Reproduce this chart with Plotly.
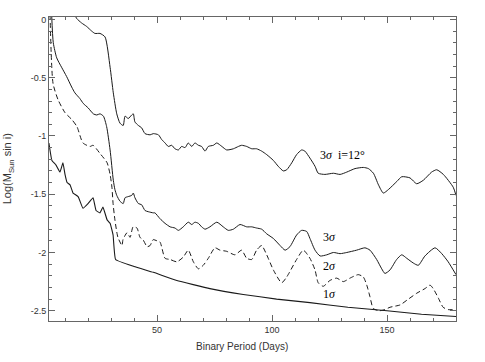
import plotly.graph_objects as go

# lower envelope (1 sigma)
x_1sig = [3.0, 4.3, 6.1, 7.8, 9.1, 10.0, 10.9, 12.2, 13.5, 15.7, 17.8, 20.0, 22.2, 23.5, 25.2,
          26.5, 28.3, 29.6, 30.9, 32.0, 40.0, 48.4, 58.6, 73.0, 87.5, 102.0, 116.5, 133.0, 150.0,
          165.0, 180.0]
y_1sig = [-1.06, -1.21, -1.25, -1.31, -1.23, -1.33, -1.40, -1.42, -1.49, -1.52, -1.62, -1.58,
          -1.53, -1.64, -1.66, -1.61, -1.72, -1.75, -1.85, -2.06, -2.12, -2.17, -2.24, -2.31,
          -2.36, -2.40, -2.43, -2.47, -2.50, -2.53, -2.55]

# 2 sigma (dashed)
x_2sig = [3.5, 4.8, 7.0, 10.0, 13.0, 15.2, 17.8, 20.9, 22.2, 25.2, 28.3, 29.6, 30.4, 30.9, 31.7,
          33.0, 34.8, 35.2, 37.0, 38.3, 39.6, 41.3, 42.6, 43.9, 45.7, 47.0, 48.3, 50.0, 51.3,
          53.5, 55.7, 58.6, 61.4, 63.6, 65.8, 68.0, 70.1, 72.3, 75.2, 77.4, 80.3, 83.9, 86.8,
          89.0, 91.2, 93.3, 95.5, 97.7, 100.6, 104.2, 106.4, 110.7, 113.6, 116.5, 118.7, 120.1,
          122.3, 125.2, 128.1, 131.0, 133.9, 137.5, 139.7, 141.2, 142.6, 144.0, 146.5, 149.1,
          151.3, 155.7, 158.6, 162.9, 166.5, 168.7, 170.1, 172.3, 174.4, 176.6, 179.6]
y_2sig = [0.04, -0.55, -0.69, -0.80, -0.86, -0.92, -1.06, -1.09, -1.08, -1.15, -1.23, -1.33,
          -1.44, -1.58, -1.72, -1.87, -1.94, -1.89, -1.83, -1.87, -1.78, -1.79, -1.87, -1.89,
          -1.95, -1.94, -1.89, -1.90, -1.91, -2.05, -2.06, -2.08, -2.04, -1.98, -2.08, -2.14,
          -2.11, -2.05, -1.96, -1.98, -1.99, -2.02, -1.98, -2.05, -2.06, -1.98, -1.94, -2.02,
          -2.15, -2.26, -2.21, -2.06, -1.98, -2.05, -2.15, -2.26, -2.29, -2.24, -2.22, -2.25,
          -2.22, -2.19, -2.21, -2.28, -2.38, -2.48, -2.50, -2.49, -2.47, -2.45, -2.41, -2.35,
          -2.31, -2.28, -2.31, -2.39, -2.47, -2.49, -2.49]

# 3 sigma
x_3sig = [4.2, 4.9, 6.4, 8.5, 10.7, 12.9, 14.3, 16.5, 17.9, 20.1, 22.3, 23.8, 25.2, 26.7, 28.1,
          29.6, 31.0, 31.7, 32.5, 33.9, 35.3, 36.1, 37.5, 39.0, 39.7, 40.4, 41.9, 43.3, 44.8,
          46.2, 48.4, 49.1, 51.3, 53.5, 55.7, 57.8, 59.3, 61.4, 63.6, 65.1, 66.5, 68.0, 69.4,
          70.9, 73.0, 76.0, 78.8, 81.0, 83.2, 86.1, 89.0, 91.2, 93.3, 95.5, 97.7, 100.6, 103.5,
          105.7, 107.8, 110.7, 112.9, 115.1, 116.5, 118.7, 120.9, 123.8, 126.7, 129.6, 132.5,
          136.8, 140.4, 142.6, 145.5, 147.7, 149.1, 151.3, 154.2, 156.4, 158.6, 161.4, 163.6,
          166.5, 170.9, 173.8, 176.6, 180.0]
y_3sig = [0.04, -0.20, -0.33, -0.41, -0.49, -0.58, -0.63, -0.68, -0.72, -0.76, -0.81, -0.82,
          -0.81, -0.83, -0.92, -1.12, -1.38, -1.46, -1.51, -1.56, -1.58, -1.53, -1.52, -1.51,
          -1.49, -1.53, -1.58, -1.59, -1.64, -1.65, -1.66, -1.66, -1.71, -1.75, -1.78, -1.79,
          -1.81, -1.78, -1.74, -1.76, -1.74, -1.75, -1.78, -1.80, -1.78, -1.74, -1.78, -1.81,
          -1.80, -1.76, -1.78, -1.78, -1.79, -1.80, -1.84, -1.88, -1.94, -1.98, -1.95, -1.85,
          -1.81, -1.82, -1.88, -1.98, -2.03, -2.02, -2.00, -2.01, -2.00, -1.98, -1.96, -1.98,
          -2.06, -2.14, -2.18, -2.15, -2.06, -2.02, -2.05, -2.09, -2.11, -2.03, -1.96, -2.01,
          -2.08, -2.19]

# 3 sigma, i = 12 deg
x_3sig12 = [13.9, 15.0, 17.2, 19.4, 21.6, 23.0, 25.2, 27.4, 29.6, 31.0, 32.5, 33.9, 35.3, 36.1,
            37.5, 39.0, 39.7, 40.4, 41.9, 43.3, 44.8, 47.0, 48.4, 50.6, 52.0, 53.5, 54.9, 56.4,
            57.8, 59.3, 60.7, 62.2, 63.6, 65.1, 66.5, 68.0, 69.4, 70.9, 72.3, 74.5, 76.0, 78.2,
            80.3, 83.2, 85.4, 86.8, 89.0, 91.2, 93.3, 95.5, 97.7, 100.6, 102.7, 104.9, 106.4,
            108.6, 110.7, 112.9, 114.3, 116.5, 118.7, 120.1, 123.0, 126.7, 129.6, 132.5, 136.1,
            139.7, 141.9, 144.1, 146.3, 148.4, 150.6, 154.3, 156.4, 160.0, 162.9, 165.8, 169.4,
            171.6, 174.5, 178.8, 180.0]
y_3sig12 = [0.06, 0.01, -0.03, -0.06, -0.10, -0.12, -0.12, -0.15, -0.41, -0.63, -0.81, -0.89,
            -0.91, -0.83, -0.85, -0.82, -0.81, -0.88, -0.91, -0.93, -0.98, -0.99, -0.98, -0.99,
            -1.03, -1.06, -1.09, -1.08, -1.11, -1.12, -1.09, -1.10, -1.06, -1.09, -1.06, -1.08,
            -1.09, -1.13, -1.09, -1.08, -1.06, -1.09, -1.12, -1.11, -1.09, -1.08, -1.09, -1.11,
            -1.11, -1.13, -1.16, -1.21, -1.26, -1.30, -1.29, -1.23, -1.16, -1.12, -1.13, -1.19,
            -1.26, -1.32, -1.33, -1.32, -1.33, -1.31, -1.28, -1.27, -1.28, -1.32, -1.42, -1.49,
            -1.46, -1.39, -1.35, -1.36, -1.41, -1.38, -1.31, -1.29, -1.33, -1.44, -1.51]

y_tickvals = [0, -0.5, -1, -1.5, -2, -2.5]
y_ticktext = ["0", "-0.5", "-1", "-1.5", "-2", "-2.5"]
x_tickvals = [50, 100, 150]

labels = ["3<i>σ</i>  i=12°", "3<i>σ</i>", "2<i>σ</i>", "1<i>σ</i>"]
label_x = [130.5, 125.0, 125.0, 125.0]
label_y = [-1.16, -1.87, -2.12, -2.36]

line_col = "#1a1a1a"

fig = go.Figure()
fig.add_trace(go.Scatter(x=x_1sig, y=y_1sig, mode="lines",
                         line=dict(color=line_col, width=1.1, shape="spline", smoothing=0.3)))
fig.add_trace(go.Scatter(x=x_2sig, y=y_2sig, mode="lines",
                         line=dict(color=line_col, width=1, dash="5px,3px",
                                   shape="spline", smoothing=0.6)))
fig.add_trace(go.Scatter(x=x_3sig, y=y_3sig, mode="lines",
                         line=dict(color=line_col, width=1, shape="spline", smoothing=0.6)))
fig.add_trace(go.Scatter(x=x_3sig12, y=y_3sig12, mode="lines",
                         line=dict(color=line_col, width=1, shape="spline", smoothing=0.6)))

for t, lx, ly in zip(labels, label_x, label_y):
    fig.add_annotation(x=lx, y=ly, text=t, showarrow=False, xanchor="center",
                       font=dict(family="Liberation Serif", size=12, color="#000"))

# axis titles
fig.add_annotation(xref="paper", yref="paper", x=0.475, y=-0.085, yanchor="middle",
                   text="Binary Period (Days)", showarrow=False,
                   font=dict(family="Liberation Sans", size=10, color="#333"))
fig.add_annotation(xref="paper", yref="paper", x=-0.1, y=0.5, textangle=-90,
                   xanchor="center", yanchor="middle",
                   text="Log(M<sub>Sun</sub> sin i)", showarrow=False,
                   font=dict(family="Liberation Sans", size=11, color="#333"))

axis_common = dict(showgrid=False, zeroline=False, showline=True, linecolor="#666", linewidth=1,
                   mirror="ticks", ticks="inside", ticklen=6, tickcolor="#666", tickwidth=1,
                   tickfont=dict(family="Liberation Sans", size=9, color="#333"))

fig.update_xaxes(range=[3.04, 180.0], tickvals=x_tickvals,
                 minor=dict(dtick=10, tick0=0, ticks="inside", ticklen=3, tickcolor="#666"),
                 **axis_common)
fig.update_yaxes(range=[-2.588, 0.021], tickvals=y_tickvals, ticktext=y_ticktext,
                 minor=dict(dtick=0.1, tick0=0, ticks="inside", ticklen=3, tickcolor="#666"),
                 **axis_common)

fig.update_layout(width=485, height=362, margin=dict(l=49, r=29, t=17, b=41),
                  paper_bgcolor="white", plot_bgcolor="white", showlegend=False)

# drop the default 8px page margin so the figure fills the window exactly
fig.write_html("out.html", config={"displayModeBar": False},
               post_script="document.body.style.margin='0';")
